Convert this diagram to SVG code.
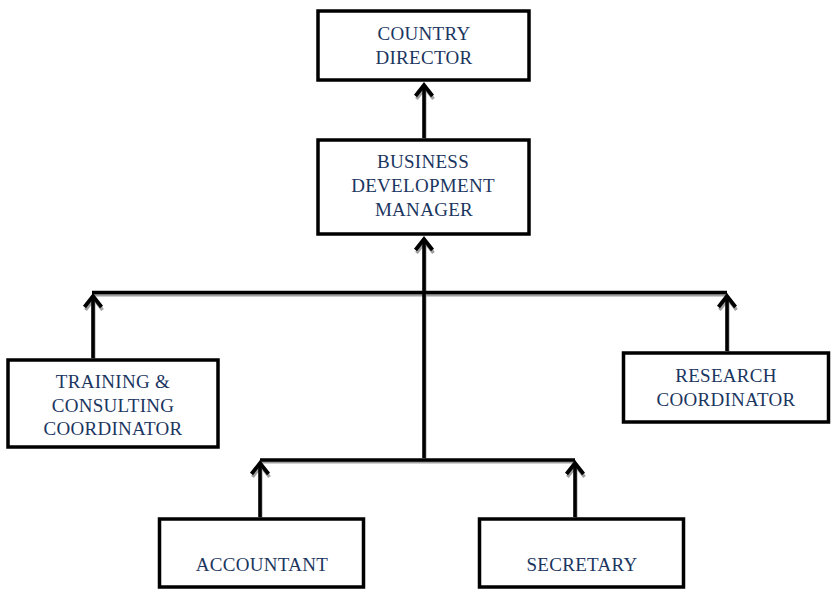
<svg xmlns="http://www.w3.org/2000/svg" width="839" height="607" viewBox="0 0 839 607">
<defs>
<style>
.box{fill:#fff;stroke:#000;stroke-width:3.5}
.t{font-family:"Liberation Serif","Times New Roman",serif;font-size:19px;fill:#1b365f;text-anchor:middle;letter-spacing:0.3px}
.ln{fill:none;stroke:#000;stroke-width:3.6}
.sh{fill:none;stroke:#a0a0a0;stroke-width:3}
</style>
<marker id="arr" viewBox="-16 -16 32 32" markerWidth="32" markerHeight="32" refX="0" refY="0" orient="auto" markerUnits="userSpaceOnUse">
<path d="M-11,-8.5 L0,0 L-11,8.5" fill="none" stroke="#000" stroke-width="3.8" stroke-linejoin="miter"/>
</marker>
<marker id="arrs" viewBox="-16 -16 32 32" markerWidth="32" markerHeight="32" refX="0" refY="0" orient="auto" markerUnits="userSpaceOnUse">
<path d="M-11,-8.5 L0,0 L-11,8.5" fill="none" stroke="#a0a0a0" stroke-width="3.4" stroke-linejoin="miter"/>
</marker>
</defs>
<rect width="839" height="607" fill="#fff"/>
<g id="connectors">
<g transform="translate(1,2)">
<path class="sh" d="M92,293 H727"/>
<path class="sh" d="M260,460 H575"/>
<path class="sh" d="M424,138 V86" marker-end="url(#arrs)"/>
<path class="sh" d="M424,458 V240" marker-end="url(#arrs)"/>
<path class="sh" d="M93,358 V297" marker-end="url(#arrs)"/>
<path class="sh" d="M727,351 V297" marker-end="url(#arrs)"/>
<path class="sh" d="M260,517 V464" marker-end="url(#arrs)"/>
<path class="sh" d="M575,517 V464" marker-end="url(#arrs)"/>
</g>
<path class="ln" d="M92,292.5 H727"/>
<path class="ln" d="M260,460 H575"/>
<path class="ln" d="M424,138 V85" marker-end="url(#arr)"/>
<path class="ln" d="M424,458 V239" marker-end="url(#arr)"/>
<path class="ln" d="M93,358 V296" marker-end="url(#arr)"/>
<path class="ln" d="M727,351 V296" marker-end="url(#arr)"/>
<path class="ln" d="M260,517 V463" marker-end="url(#arr)"/>
<path class="ln" d="M575,517 V463" marker-end="url(#arr)"/>
</g>
<g id="country-director">
<rect class="box" x="318" y="11" width="211" height="69"/>
<text class="t" x="424" y="40">COUNTRY</text>
<text class="t" x="424" y="64">DIRECTOR</text>
</g>
<g id="business-development-manager">
<rect class="box" x="318" y="140" width="211" height="94"/>
<text class="t" x="423" y="168">BUSINESS</text>
<text class="t" x="423" y="192">DEVELOPMENT</text>
<text class="t" x="424" y="216">MANAGER</text>
</g>
<g id="training-consulting-coordinator">
<rect class="box" x="8" y="360" width="210" height="87"/>
<text class="t" x="113" y="388">TRAINING &amp;</text>
<text class="t" x="113" y="412">CONSULTING</text>
<text class="t" x="113" y="435">COORDINATOR</text>
</g>
<g id="research-coordinator">
<rect class="box" x="623.5" y="353" width="205" height="69"/>
<text class="t" x="726" y="382">RESEARCH</text>
<text class="t" x="726" y="406">COORDINATOR</text>
</g>
<g id="accountant">
<rect class="box" x="159.5" y="519" width="204" height="68"/>
<text class="t" x="262" y="571">ACCOUNTANT</text>
</g>
<g id="secretary">
<rect class="box" x="479.5" y="519" width="204" height="68"/>
<text class="t" x="582" y="571">SECRETARY</text>
</g>
</svg>
